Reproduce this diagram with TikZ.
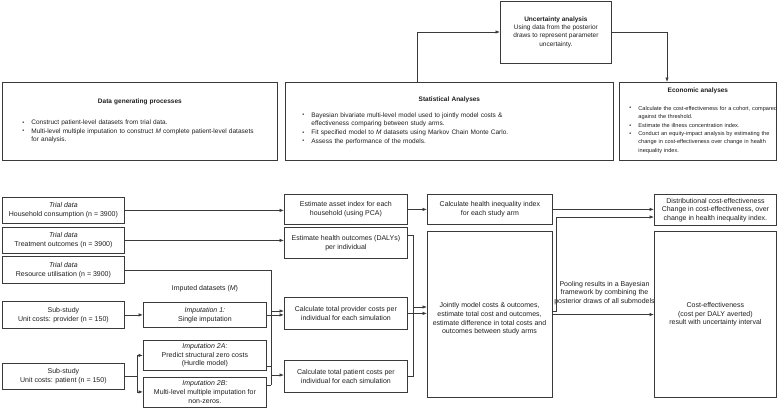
\documentclass[tikz,border=0pt]{standalone}
\usepackage{fontspec}
\setmainfont{Liberation Sans}
\usetikzlibrary{arrows.meta,calc}
\definecolor{lc}{HTML}{3A3A3A}
\definecolor{txt}{HTML}{1E1E1E}
\newlength\bind
\newcommand{\bitem}[1]{\par\noindent\hspace*{\bind}\makebox[9pt][l]{\raisebox{0.15ex}{\fontsize{5.5}{5.5}\selectfont\textbullet}}\begin{tabular}[t]{@{}l@{}}#1\end{tabular}\par}
\begin{document}
\begin{tikzpicture}[x=1pt,y=-1pt,
  every node/.style={font=\fontsize{7}{8.6}\selectfont, text=txt},
  top/.style={font=\fontsize{6.5}{8.3}\selectfont},
  box/.style={draw=lc, line width=0.8pt, anchor=north west, inner sep=0pt, align=center},
  arr/.style={draw=lc, line width=0.7pt, -{Latex[length=4.5pt,width=3.5pt]}},
  conn/.style={draw=lc, line width=0.7pt}]
\useasboundingbox (0,0) rectangle (778,408);

% top row
\node[box, top, minimum width=111pt, minimum height=62pt] (unc) at (500,0.5)
  {\textbf{Uncertainty analysis}\\Using data from the posterior\\draws to represent parameter\\uncertainty.};
\node[box, top, text width=275pt, minimum height=78pt, align=left] (dgp) at (2,82)
  {{\centering\bfseries Data generating processes\par}\vspace{13pt}\setlength\bind{20pt}%
   \bitem{Construct patient-level datasets from trial data.}%
   \bitem{Multi-level multiple imputation to construct \textit{M} complete patient-level datasets\\for analysis.}};
\node[box, top, text width=328pt, minimum height=78pt, align=left] (sa) at (285,82)
  {{\centering\bfseries Statistical Analyses\par}\vspace{7pt}\setlength\bind{17pt}%
   \bitem{Bayesian bivariate multi-level model used to jointly model costs \&\\effectiveness comparing between study arms.}%
   \bitem{Fit specified model to \textit{M} datasets using Markov Chain Monte Carlo.}%
   \bitem{Assess the performance of the models.}};
\node[box, font=\fontsize{5.6}{8.2}\selectfont, text width=157pt, minimum height=78pt, align=left] (econ) at (619,82)
  {{\centering\fontsize{6.5}{8.2}\selectfont\bfseries Economic analyses\par}\vspace{9pt}\setlength\bind{10pt}%
   \bitem{Calculate the cost-effectiveness for a cohort, compared\\against the threshold.}%
   \bitem{Estimate the illness concentration index.}%
   \bitem{Conduct an equity-impact analysis by estimating the\\change in cost-effectiveness over change in health\\inequality index.}};

\coordinate (tu) at (417,32);
\coordinate (te) at (667,32);
\draw[arr] (tu |- sa.north) -- (tu) -- (tu -| unc.west);
\draw[arr] (unc.east |- te) -- (te) -- (te |- econ.north);

% left column
\node[box, minimum width=122pt, minimum height=26pt] (hh) at (2,197) {\textit{Trial data}\\Household consumption (n = 3900)};
\node[box, minimum width=122pt, minimum height=26pt] (to) at (2,227) {\textit{Trial data}\\Treatment outcomes (n = 3900)};
\node[box, minimum width=122pt, minimum height=27pt] (ru) at (2,256) {\textit{Trial data}\\Resource utilisation (n = 3900)};
\node[box, minimum width=122pt, minimum height=27pt] (prov) at (2,301) {Sub-study\\Unit costs: provider (n = 150)};
\node[box, minimum width=122pt, minimum height=26pt] (pat) at (2,363) {Sub-study\\Unit costs: patient (n = 150)};

\node (impl) at (205,289) {Imputed datasets (\textit{M})};
\node[box, minimum width=123pt, minimum height=25pt] (imp1) at (143,302) {\textit{Imputation 1:}\\Single imputation};
\node[box, minimum width=123pt, minimum height=30pt] (imp2a) at (143,340) {\textit{Imputation 2A:}\\Predict structural zero costs\\(Hurdle model)};
\node[box, minimum width=123pt, minimum height=30pt] (imp2b) at (143,376.5) {\textit{Imputation 2B:}\\Multi-level multiple imputation for\\non-zeros.};

% middle column
\node[box, minimum width=123pt, minimum height=30pt] (asset) at (284,194) {Estimate asset index for each\\household (using PCA)};
\node[box, minimum width=123pt, minimum height=31pt] (dalys) at (284,227) {Estimate health outcomes (DALYs)\\per individual};
\node[box, minimum width=123pt, minimum height=32pt] (provc) at (284,297) {Calculate total provider costs per\\individual for each simulation};
\node[box, minimum width=123pt, minimum height=32pt] (patc) at (284,360) {Calculate total patient costs per\\individual for each simulation};

\node[box, minimum width=125pt, minimum height=30pt] (hii) at (427,194) {Calculate health inequality index\\for each study arm};
\node[box, minimum width=125pt, minimum height=166pt] (joint) at (427,231) {};
\node[align=center, inner sep=0pt] (jtxt) at (489.5,319) {Jointly model costs \& outcomes,\\estimate total cost and outcomes,\\estimate difference in total costs and\\outcomes between study arms};

% right column
\node[box, minimum width=122pt, minimum height=31pt] (dist) at (654,194) {Distributional cost-effectiveness\\Change in cost-effectiveness, over\\change in health inequality index.};
\node[box, minimum width=122pt, minimum height=166pt] (ce) at (654,231) {Cost-effectiveness\\(cost per DALY averted)\\result with uncertainty interval};
\node[align=center, inner sep=0pt] (pool) at (604.5,293) {Pooling results in a Bayesian\\framework by combining the\\posterior draws of all submodels};

% connectors left
\draw[arr] (hh.east) -- (hh.east -| asset.west);
\draw[arr] (to.east) -- (to.east -| dalys.west);
\coordinate (busR) at (271,385);
\coordinate (bp) at (271,311);
\coordinate (bq) at (271,375);
\coordinate (ba) at (271,366);
\draw[conn] (ru.east) -| (busR);
\draw[arr] (bp) -- (bp -| provc.west);
\draw[arr] (bq) -- (bq -| patc.west);
\draw[arr] (imp1.east) -- (imp1.east -| provc.west);
\draw[conn] (ba -| imp2a.east) -- (ba);
\draw[conn] (busR -| imp2b.east) -- (busR);
\draw[arr] (prov.east) -- (prov.east -| imp1.west);
\coordinate (fk) at (137,376);
\draw[conn] (pat.east) -- (pat.east -| fk);
\draw[conn] (fk |- imp2a.west) -- (fk |- imp2b.west);
\draw[arr] (fk |- imp2a.west) -- (imp2a.west);
\draw[arr] (fk |- imp2b.west) -- (imp2b.west);

% connectors middle
\draw[arr] (asset.east) -- (asset.east -| hii.west);
\coordinate (bm) at (413,235);
\coordinate (bj) at (413,307);
\draw[conn] (bm -| dalys.east) -- (bm) -- (bm |- patc.east) -- (patc.east);
\draw[arr] (bj) -- (bj -| joint.west);
\draw[arr] (provc.east) -- (provc.east -| joint.west);

% connectors right
\draw[arr] (hii.east) -- (hii.east -| dist.west);
\coordinate (br) at (556,311);
\coordinate (bt) at (556,217);
\draw[arr] (br -| joint.east) -- (br) -- (bt) -- (bt -| dist.west);
\coordinate (bc) at (600,314.5);
\draw[arr] (bc -| joint.east) -- (bc -| ce.west);
\end{tikzpicture}
\end{document}
